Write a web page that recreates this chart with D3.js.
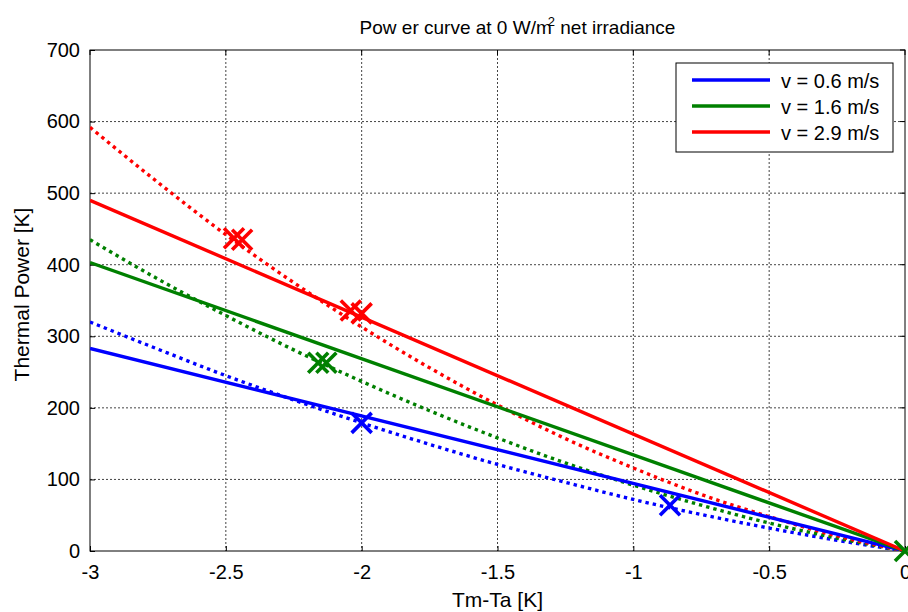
<!DOCTYPE html>
<html>
<head>
<meta charset="utf-8">
<script src="https://cdn.jsdelivr.net/npm/d3@7"></script>
<style>
  body { margin: 0; background: #fff; }
  svg { font-family: "Liberation Sans", Arial, sans-serif; }
</style>
</head>
<body>
<div id="chart"></div>
<script>
// x values (Tm-Ta [K])
var xVals = [-3, -2.75, -2.5, -2.25, -2, -1.75, -1.5, -1.25, -1, -0.75, -0.5, -0.25, 0];

// solid lines (model), end points
var solidX = [-3, 0];
var solidBlue = [283, 0];
var solidGreen = [403, 0];
var solidRed = [490, 0];

// dotted lines (measured fit)
var dotBlue = [320, 282, 245, 211, 179, 149, 121, 96, 72, 51, 32, 15, 0];
var dotGreen = [435, 380, 329, 281, 237, 196, 158, 123, 92, 64, 39, 18, 0];
var dotRed = [592, 515, 442, 375, 313, 256, 204, 157, 116, 79, 48, 21, 0];

// X markers
var markBlue = [[-2.0, 179], [-0.865, 64]];
var markGreen = [[-2.16, 263], [-2.13, 263], [0, 0]];
var markRed = [[-2.47, 437], [-2.44, 435], [-2.04, 336], [-2.0, 332]];

var legendLabels = ["v = 0.6 m/s", "v = 1.6 m/s", "v = 2.9 m/s"];
var colors = ["#0000ff", "#008000", "#ff0000"];

var xTicks = [-3, -2.5, -2, -1.5, -1, -0.5, 0];
var yTicks = [0, 100, 200, 300, 400, 500, 600, 700];

var margin = { left:90, right:3, top:50, bottom:61 };
var W = 908, H = 612;
var width = W - margin.left - margin.right,
    height = H - margin.top - margin.bottom;

var svg = d3.select("#chart").append("svg")
    .attr("width", W)
    .attr("height", H);

var g = svg.append("g")
    .attr("transform", "translate(" + margin.left + "," + margin.top + ")");

var x = d3.scaleLinear().domain([-3, 0]).range([0, width]);
var y = d3.scaleLinear().domain([0, 700]).range([height, 0]);

// grid
g.append("g").selectAll("line")
    .data(xTicks.slice(1, -1))
    .enter().append("line")
      .attr("x1", function(d){ return x(d); })
      .attr("x2", function(d){ return x(d); })
      .attr("y1", 0).attr("y2", height)
      .attr("stroke", "#444").attr("stroke-width", 1)
      .attr("stroke-dasharray", "2,2");
g.append("g").selectAll("line")
    .data(yTicks.slice(1, -1))
    .enter().append("line")
      .attr("y1", function(d){ return y(d); })
      .attr("y2", function(d){ return y(d); })
      .attr("x1", 0).attr("x2", width)
      .attr("stroke", "#444").attr("stroke-width", 1)
      .attr("stroke-dasharray", "2,2");

// axes (ticks inside)
var xAxis = g.append("g")
    .attr("transform", "translate(0," + height + ")")
    .call(d3.axisBottom(x).tickValues(xTicks).tickSize(-5).tickPadding(14)
          .tickFormat(function(d){ return d; }));
var yAxis = g.append("g")
    .call(d3.axisLeft(y).tickValues(yTicks).tickSize(-5).tickPadding(10));
[xAxis, yAxis].forEach(function(a){
  a.select(".domain").remove();
  a.selectAll("text").attr("font-size", "20px").attr("fill", "#000")
    .attr("font-family", "Liberation Sans, Arial, sans-serif");
  a.selectAll("line").attr("stroke", "#000");
});
// top/right ticks
g.append("g").selectAll("line").data(xTicks).enter().append("line")
    .attr("x1", function(d){ return x(d); }).attr("x2", function(d){ return x(d); })
    .attr("y1", 0).attr("y2", 5).attr("stroke", "#000");
g.append("g").selectAll("line").data(yTicks).enter().append("line")
    .attr("y1", function(d){ return y(d); }).attr("y2", function(d){ return y(d); })
    .attr("x1", width).attr("x2", width - 5).attr("stroke", "#000");

// box
g.append("rect")
    .attr("width", width).attr("height", height)
    .attr("fill", "none").attr("stroke", "#000").attr("stroke-width", 1);

// clip for lines
svg.append("defs").append("clipPath").attr("id", "plotclip")
  .append("rect").attr("width", width).attr("height", height);

var lines = g.append("g").attr("clip-path", "url(#plotclip)");

var line = d3.line()
    .x(function(d){ return x(d[0]); })
    .y(function(d){ return y(d[1]); });
var curve = d3.line()
    .curve(d3.curveMonotoneX)
    .x(function(d){ return x(d[0]); })
    .y(function(d){ return y(d[1]); });

var dotted = [dotBlue, dotGreen, dotRed];
var solids = [solidBlue, solidGreen, solidRed];

dotted.forEach(function(s, i){
  lines.append("path")
    .datum(xVals.map(function(v, j){ return [v, s[j]]; }))
    .attr("d", curve)
    .attr("fill", "none")
    .attr("stroke", colors[i])
    .attr("stroke-width", 3.4)
    .attr("stroke-dasharray", "3.4,4");
});
solids.forEach(function(s, i){
  lines.append("path")
    .datum(solidX.map(function(v, j){ return [v, s[j]]; }))
    .attr("d", line)
    .attr("fill", "none")
    .attr("stroke", colors[i])
    .attr("stroke-width", 3.4);
});

// markers
var ms = 10;
[markBlue, markGreen, markRed].forEach(function(m, i){
  var mg = g.append("g");
  m.forEach(function(p){
    var cx = x(p[0]), cy = y(p[1]);
    mg.append("path")
      .attr("d", "M" + (cx - ms) + "," + (cy - ms) + "L" + (cx + ms) + "," + (cy + ms) +
                 "M" + (cx - ms) + "," + (cy + ms) + "L" + (cx + ms) + "," + (cy - ms))
      .attr("stroke", colors[i])
      .attr("stroke-width", 3.6)
      .attr("fill", "none");
  });
});

// legend
var lg = g.append("g").attr("transform", "translate(" + (676 - margin.left) + "," + (63 - margin.top) + ")");
lg.append("rect").attr("width", 217).attr("height", 89)
  .attr("fill", "#fff").attr("stroke", "#000").attr("stroke-width", 1);
var items = lg.selectAll("g.item").data(legendLabels).enter().append("g")
  .attr("class", "item")
  .attr("transform", function(d, i){ return "translate(0," + (17 + i * 26) + ")"; });
items.append("line")
  .attr("x1", 16).attr("x2", 94).attr("y1", 0).attr("y2", 0)
  .attr("stroke", function(d, i){ return colors[i]; })
  .attr("stroke-width", 3.4);
items.append("text")
  .attr("x", 105).attr("y", 1).attr("dy", "0.35em")
  .attr("font-size", "20px")
  .text(function(d){ return d; });

// title
var title = svg.append("text")
  .attr("x", margin.left + width / 2 + 20).attr("y", 34)
  .attr("text-anchor", "middle")
  .attr("font-size", "19px");
title.append("tspan").text("Pow er curve at 0 W/m");
title.append("tspan").attr("font-size", "13px").attr("dy", "-8").attr("dx", "-4").text("2");
title.append("tspan").attr("dy", "8").text(" net irradiance");

// axis labels
svg.append("text")
  .attr("x", margin.left + width / 2).attr("y", 607)
  .attr("text-anchor", "middle")
  .attr("font-size", "21px")
  .text("Tm-Ta [K]");
svg.append("text")
  .attr("transform", "translate(29," + (margin.top + height / 2 - 6) + ") rotate(-90)")
  .attr("text-anchor", "middle")
  .attr("font-size", "21px")
  .text("Thermal Power [K]");
</script>
</body>
</html>
